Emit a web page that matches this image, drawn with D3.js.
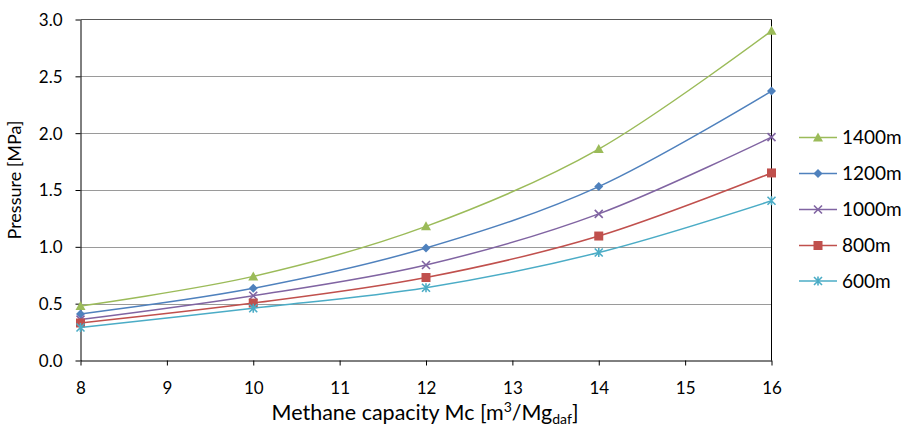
<!DOCTYPE html>
<html><head><meta charset="utf-8">
<script src="https://cdn.jsdelivr.net/npm/d3@7/dist/d3.min.js"></script>
<style>
body{margin:0;background:#fff;}
svg{display:block;font-family:Lato,"Open Sans",sans-serif;}
</style></head>
<body><svg id="chart" width="901" height="428"></svg>
<script>
const capacities = [8, 10, 12, 14, 16];
const seriesNames = ["1400m", "1200m", "1000m", "800m", "600m"];
const p1400 = [0.48, 0.74, 1.18, 1.86, 2.90];
const p1200 = [0.41, 0.635, 0.99, 1.53, 2.37];
const p1000 = [0.36, 0.57, 0.84, 1.29, 1.965];
const p800  = [0.33, 0.505, 0.73, 1.095, 1.65];
const p600  = [0.29, 0.46, 0.64, 0.95, 1.405];
const xTicks = [8, 9, 10, 11, 12, 13, 14, 15, 16];
const yTicks = [0, 0.5, 1.0, 1.5, 2.0, 2.5, 3.0];

const seriesValues = [p1400, p1200, p1000, p800, p600];
const colors = ["#9BBB59", "#4F81BD", "#8064A2", "#C0504D", "#4BACC6"];
const markers = ["triangle", "diamond", "cross", "square", "star"];

const svg = d3.select("#chart");
const L = 80.5, R = 771.5, T = 19.5, B = 360.5;
const x = d3.scaleLinear().domain([8, 16]).range([L, R]);
const y = d3.scaleLinear().domain([0, 3]).range([B, T]);

// gridlines
svg.append("g").selectAll("line").data(yTicks.filter(d => d > 0 && d < 3)).join("line")
  .attr("x1", L).attr("x2", R).attr("y1", d => Math.round(y(d)) + 0.5).attr("y2", d => Math.round(y(d)) + 0.5)
  .attr("stroke", "#9a9a9a").attr("stroke-width", 1);
// top border
svg.append("line").attr("x1", L).attr("x2", R).attr("y1", T).attr("y2", T).attr("stroke", "#595959");
// right border
svg.append("line").attr("x1", R).attr("x2", R).attr("y1", T).attr("y2", B).attr("stroke", "#000");

// axes
const xAxis = svg.append("g").attr("transform", `translate(0,${B})`)
  .call(d3.axisBottom(x).tickValues(xTicks).tickSize(5).tickSizeOuter(0).tickFormat(d3.format("d")));
const yAxis = svg.append("g").attr("transform", `translate(${L},0)`)
  .call(d3.axisLeft(y).tickValues(yTicks).tickSize(5).tickSizeOuter(0).tickFormat(d3.format(".1f")));
[xAxis, yAxis].forEach(a => {
  a.select(".domain").attr("stroke", "#000");
  a.selectAll(".tick line").attr("stroke", "#000");
  a.selectAll("text").attr("fill", "#000").attr("font-size", 17).attr("font-family", "Lato, sans-serif");
});
xAxis.selectAll("text").attr("dy", null).attr("y", 0).attr("transform", "translate(0,33)");
yAxis.selectAll("text").attr("x", -18).attr("dy", "0.35em");

// axis titles
const xt = svg.append("text").attr("x", 425).attr("y", 420).attr("text-anchor", "middle")
  .attr("font-size", 21.5).attr("fill", "#000");
xt.append("tspan").text("Methane capacity Mc [m");
xt.append("tspan").text("3").attr("font-size", 14).attr("dy", -8);
xt.append("tspan").text("/Mg").attr("dy", 8);
xt.append("tspan").text("daf").attr("font-size", 14).attr("dy", 4);
xt.append("tspan").text("]").attr("dy", -4);

svg.append("text").attr("transform", "translate(21,180) rotate(-90)").attr("text-anchor", "middle")
  .attr("font-size", 18).attr("fill", "#000").text("Pressure [MPa]");

// marker drawing
function drawMarker(g, type, color, cx, cy) {
  const m = g.append("g").attr("transform", `translate(${cx},${cy})`);
  if (type === "triangle") {
    m.append("path").attr("d", "M0,-5L5,4L-5,4Z").attr("fill", color);
  } else if (type === "diamond") {
    m.append("path").attr("d", "M0,-4.5L4.5,0L0,4.5L-4.5,0Z").attr("fill", color);
  } else if (type === "square") {
    m.append("rect").attr("x", -4.5).attr("y", -4.5).attr("width", 9).attr("height", 9).attr("fill", color);
  } else if (type === "cross") {
    m.append("path").attr("d", "M-4,-4L4,4M-4,4L4,-4").attr("stroke", color).attr("stroke-width", 1.6);
  } else if (type === "star") {
    m.append("path").attr("d", "M-4,-4L4,4M-4,4L4,-4M0,-4.5L0,4.5").attr("stroke", color).attr("stroke-width", 1.6);
  }
}

const line = d3.line().x((d, i) => x(capacities[i])).y(d => y(d)).curve(d3.curveCatmullRom.alpha(0));

seriesValues.forEach((vals, si) => {
  const g = svg.append("g");
  g.append("path").attr("d", line(vals)).attr("fill", "none").attr("stroke", colors[si]).attr("stroke-width", 1.5);
  vals.forEach((v, i) => drawMarker(g, markers[si], colors[si], x(capacities[i]), y(v)));
});

// legend
const legY = [137.5, 173.5, 209.5, 245.5, 281];
seriesNames.forEach((name, si) => {
  const g = svg.append("g");
  g.append("line").attr("x1", 799).attr("x2", 837).attr("y1", legY[si]).attr("y2", legY[si])
    .attr("stroke", colors[si]).attr("stroke-width", 1.5);
  drawMarker(g, markers[si], colors[si], 818, legY[si]);
  g.append("text").attr("x", 842).attr("y", legY[si]).attr("dy", "0.35em")
    .attr("font-size", 19).attr("fill", "#000").text(name);
});
</script>
</body></html>
